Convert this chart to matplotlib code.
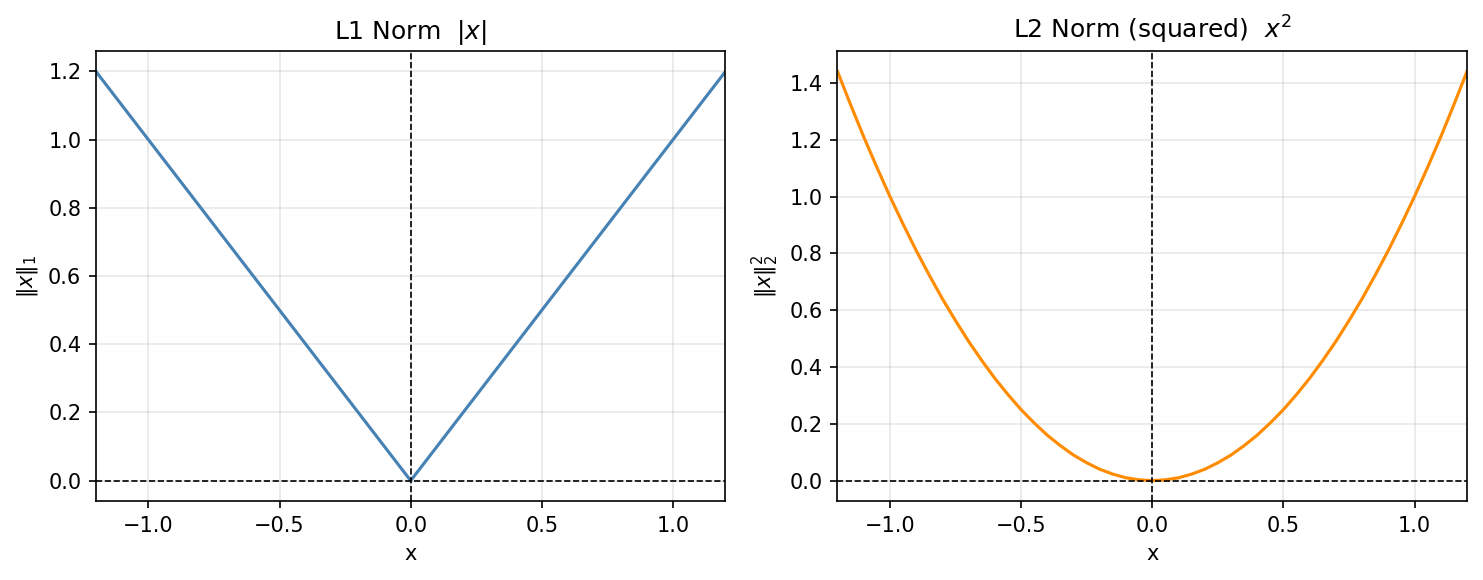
#!/usr/bin/env python3

import matplotlib
matplotlib.use("Agg")
import matplotlib.pyplot as plt

# values
x_l1 = [-1.2, 0.0, 1.2]
y_l1 = [1.2, 0.0, 1.2]

x_l2_half = [1.2, 1.15, 1.1, 1.05, 1.0, 0.95, 0.9, 0.85, 0.8, 0.75, 0.7, 0.65, 0.6,
             0.55, 0.5, 0.45, 0.4, 0.35, 0.3, 0.25, 0.2, 0.15, 0.1, 0.05]
y_l2_half = [1.44, 1.323, 1.21, 1.103, 1.0, 0.903, 0.81, 0.723, 0.64, 0.563, 0.49, 0.423, 0.36,
             0.303, 0.25, 0.203, 0.16, 0.123, 0.09, 0.063, 0.04, 0.023, 0.01, 0.003]
x_l2 = [-v for v in x_l2_half] + [0.0] + x_l2_half[::-1]
y_l2 = y_l2_half + [0.0] + y_l2_half[::-1]

fig, (ax1, ax2) = plt.subplots(1, 2, figsize=(1483/150, 580/150), dpi=150)
fig.subplots_adjust(left=0.0647, right=0.9892, top=0.912, bottom=0.136, wspace=0.178)

ax1.plot(x_l1, y_l1, color="steelblue", lw=1.5)
ax1.set_title(r"L1 Norm  $|x|$")
ax1.set_ylabel(r"$\|x\|_1$")

ax2.plot(x_l2, y_l2, color="darkorange", lw=1.5)
ax2.set_title(r"L2 Norm (squared)  $x^2$")
ax2.set_ylabel(r"$\|x\|_2^2$")

for ax in (ax1, ax2):
    ax.axhline(0, color="black", lw=0.8, ls="--")
    ax.axvline(0, color="black", lw=0.8, ls="--")
    ax.set_xlim(-1.2, 1.2)
    ax.set_xlabel("x")
    ax.grid(True, alpha=0.3)

fig.savefig("out.png", dpi=150)
